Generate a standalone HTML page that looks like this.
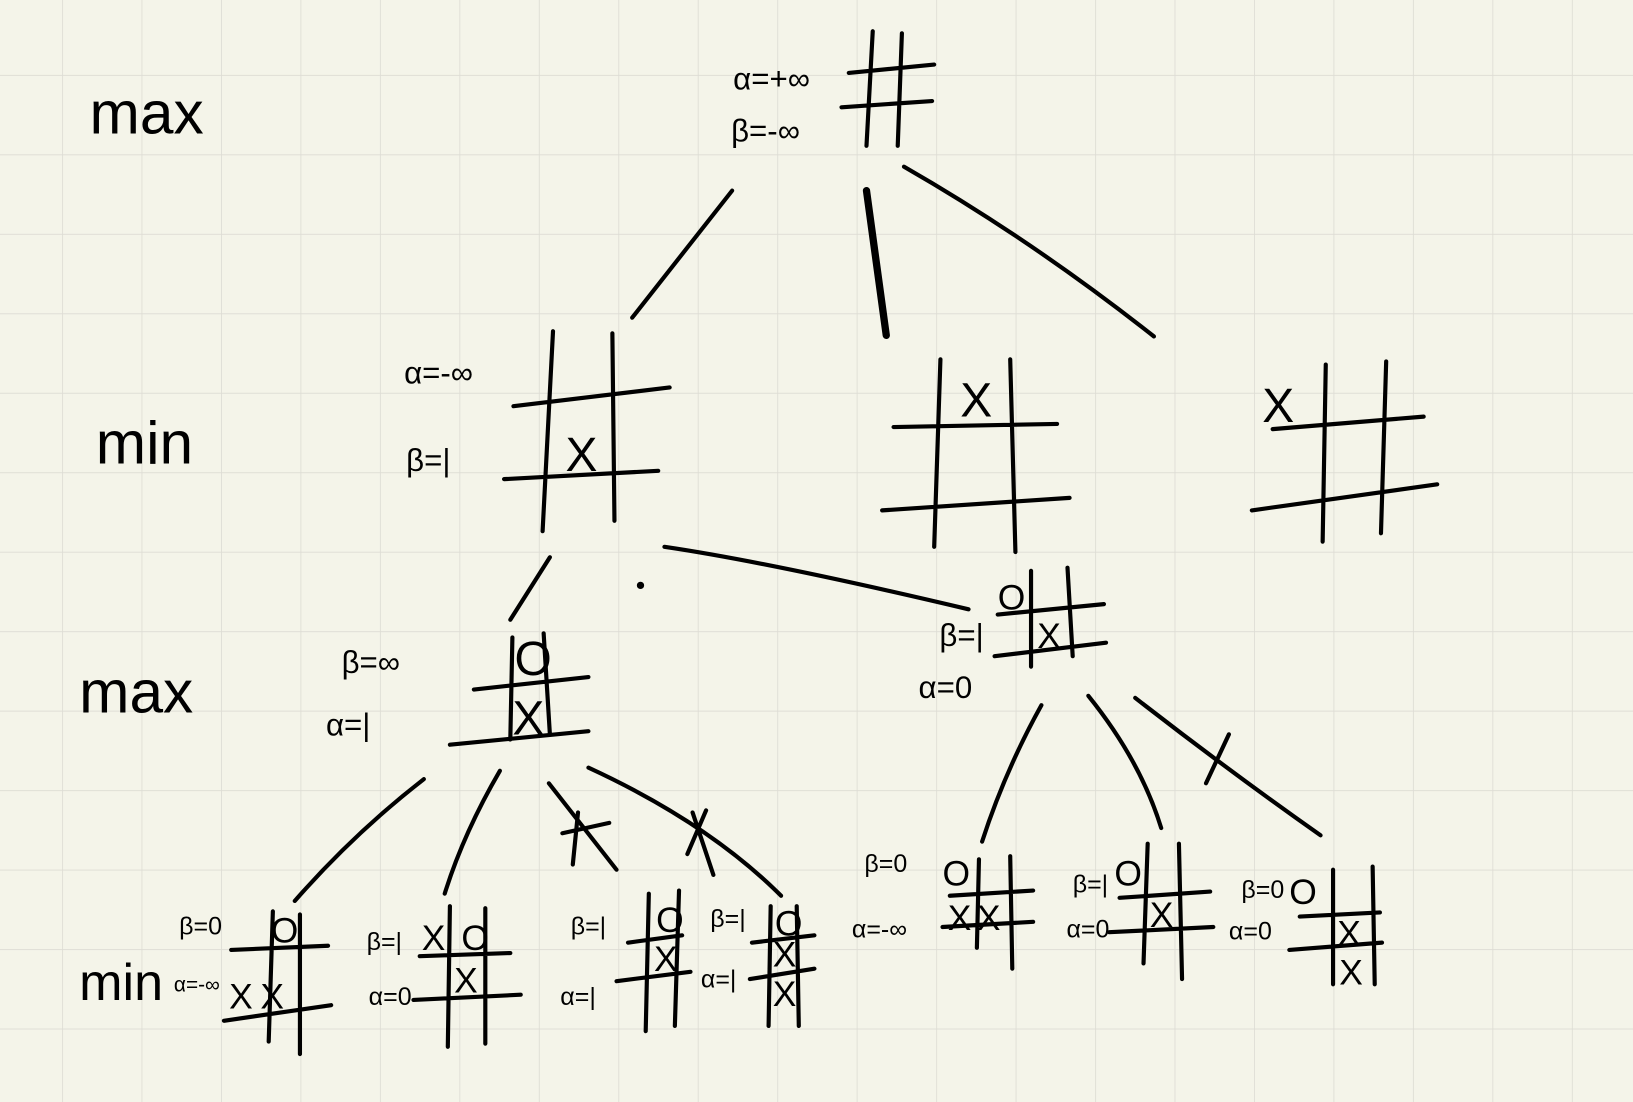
<!DOCTYPE html>
<html><head><meta charset="utf-8"><style>
html,body{margin:0;padding:0;background:#f4f4e9;}
svg{display:block}
text{font-family:"Liberation Sans",sans-serif;fill:#000;}
</style></head><body>
<svg width="1633" height="1102" viewBox="0 0 1568 1058" preserveAspectRatio="none" xmlns="http://www.w3.org/2000/svg">
<defs>
<pattern id="g" x="59.6" y="71.9" width="76.3" height="76.3" patternUnits="userSpaceOnUse">
<path d="M0 0H76.3M0 0V76.3" stroke="#dddcd4" stroke-width="1.6" fill="none"/>
</pattern>
</defs>
<rect width="1568" height="1058" fill="#f4f4e9"/>
<rect width="1568" height="1058" fill="url(#g)"/>
<g stroke="#000" stroke-linecap="round" fill="none" stroke-width="4">
<path d="M838 30L832 140M866 32L862 140M815 70L897 62M808 103L895 97"/>
<path d="M703 183L607 305M868 160Q990 230 1108 323"/>
<path d="M832 183L851 322" stroke-width="7"/>
<path d="M531 318L521 510M588 320L590 500M493 390L643 372M484 460L632 452"/>
<path d="M903 345L897 525M970 345L975 530M858 410L1015 407M847 490L1027 478"/>
<path d="M1273 350L1270 520M1331 347L1326 512M1222 412L1367 400M1202 490L1380 465"/>
<path d="M528 535L490 595M638 525Q740 540 930 585"/>
<circle cx="615" cy="562" r="1.5" fill="#000"/>
<path d="M492 612L490 710M522 608L528 705M455 662L565 650M432 715L565 702"/>
<path d="M990 548L990 640M1025 545L1030 630M958 590L1060 580M955 630L1062 617"/>
<path d="M407 748Q340 800 283 865M480 740Q445 800 427 858M527 752L592 835M565 737Q680 790 750 860"/>
<path d="M540 800L585 790M555 780L550 830M665 780L685 840M678 778L660 820"/>
<path d="M1000 677Q965 740 943 808M1045 668Q1095 730 1115 795M1090 670Q1180 740 1268 802"/>
<path d="M1180 705L1158 752"/>
<path d="M262 875L258 1000M288 878L288 1012M222 912L315 908M215 980L318 965"/>
<path d="M432 870L430 1005M466 872L466 1002M403 918L490 915M397 960L500 955"/>
<path d="M623 858L620 990M652 855L648 985M603 905L655 898M592 942L663 933"/>
<path d="M740 870L738 985M765 870L767 985M722 905L782 898M720 940L782 930"/>
<path d="M940 825L938 910M970 822L972 930M912 860L992 855M905 890L992 885"/>
<path d="M1102 810L1098 925M1132 810L1135 940M1075 862L1162 856M1065 895L1165 890"/>
<path d="M1280 835L1280 945M1318 832L1320 945M1248 880L1325 876M1238 912L1327 905"/>
</g>
<g font-size="58"><text x="86" y="128">max</text><text x="92" y="445">min</text><text x="76" y="684">max</text></g>
<text x="76" y="960" font-size="50">min</text>
<g font-size="30">
<text x="704" y="86">α=+∞</text><text x="702" y="136">β=-∞</text>
<text x="388" y="368">α=-∞</text><text x="390" y="452">β=|</text>
<text x="328" y="646">β=∞</text><text x="313" y="706">α=|</text>
<text x="902" y="620">β=|</text><text x="882" y="670">α=0</text>
</g>
<g font-size="46"><text x="543" y="452">X</text><text x="922" y="400">X</text><text x="1212" y="405">X</text>
<text x="494" y="648">O</text><text x="492" y="705">X</text></g>
<g font-size="34"><text x="958" y="585">O</text><text x="996" y="622">X</text></g>
<g font-size="24">
<text x="172" y="897">β=0</text><text x="167" y="952" font-size="20">α=-∞</text>
<text x="352" y="912">β=|</text><text x="354" y="965">α=0</text>
<text x="548" y="897">β=|</text><text x="538" y="965">α=|</text>
<text x="682" y="890">β=|</text><text x="673" y="948">α=|</text>
<text x="830" y="837">β=0</text><text x="818" y="900">α=-∞</text>
<text x="1030" y="857">β=|</text><text x="1024" y="900">α=0</text>
<text x="1192" y="862">β=0</text><text x="1180" y="902">α=0</text>
</g>
<g font-size="34">
<text x="260" y="905">O</text><text x="220" y="968">X</text><text x="250" y="968">X</text>
<text x="405" y="912">X</text><text x="443" y="912">O</text><text x="436" y="953">X</text>
<text x="630" y="895">O</text><text x="628" y="932">X</text>
<text x="744" y="898">O</text><text x="742" y="928">X</text><text x="742" y="966">X</text>
<text x="905" y="850">O</text><text x="910" y="893">X</text><text x="938" y="893">X</text>
<text x="1070" y="850">O</text><text x="1104" y="890">X</text>
<text x="1238" y="868">O</text><text x="1284" y="908">X</text><text x="1286" y="945">X</text>
</g>
</svg>
</body></html>
